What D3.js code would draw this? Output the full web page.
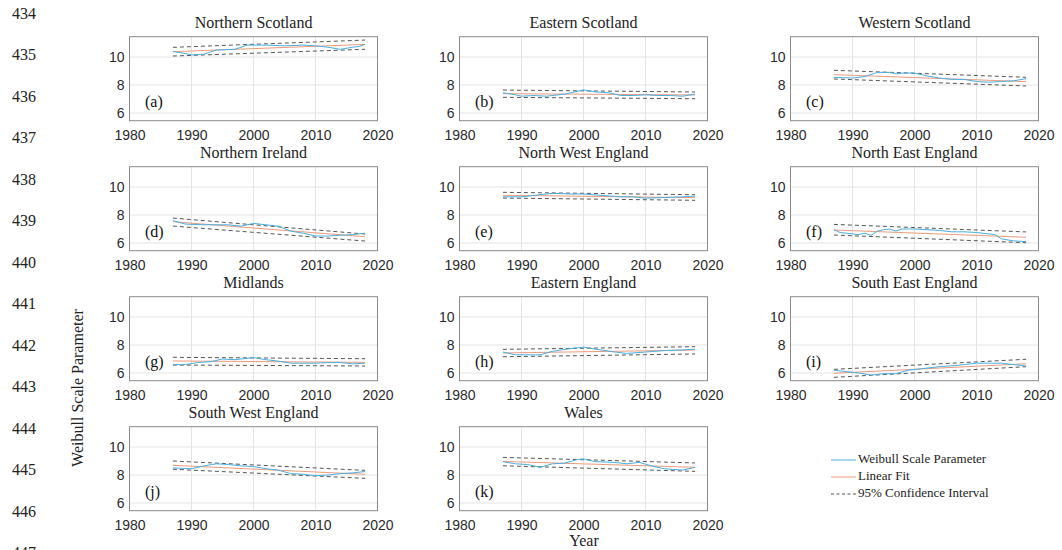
<!DOCTYPE html>
<html>
<head>
<meta charset="utf-8">
<script src="https://cdn.jsdelivr.net/npm/d3@7"></script>
<style>
  body { margin: 0; background: #fff; }
  svg { display: block; }
</style>
</head>
<body>
<svg id="chart" width="1062" height="550"></svg>
<script>
// region names and panel tags
const regions = [
  "Northern Scotland", "Eastern Scotland", "Western Scotland",
  "Northern Ireland", "North West England", "North East England",
  "Midlands", "Eastern England", "South East England",
  "South West England", "Wales"
];
const tags = ["(a)", "(b)", "(c)", "(d)", "(e)", "(f)", "(g)", "(h)", "(i)", "(j)", "(k)"];

// weibull scale parameter, [year, value]
const weibull = [
  [[1987,10.4],[1989,10.25],[1990,10.15],[1992,10.2],[1994,10.5],[1997,10.55],[1999,10.85],[2002,10.85],[2005,10.8],[2008,10.85],[2010,10.8],[2012,10.7],[2014,10.55],[2016,10.7],[2017,10.75],[2018,10.9]],
  [[1987,7.45],[1989,7.3],[1990,7.2],[1992,7.25],[1994,7.2],[1997,7.35],[2000,7.65],[2002,7.5],[2004,7.45],[2006,7.25],[2008,7.25],[2010,7.3],[2012,7.25],[2014,7.25],[2016,7.2],[2018,7.35]],
  [[1987,8.55],[1990,8.5],[1992,8.6],[1994,8.9],[1996,8.9],[1997,8.8],[1998,8.85],[2000,8.85],[2002,8.65],[2004,8.5],[2006,8.4],[2008,8.4],[2010,8.25],[2012,8.2],[2014,8.25],[2016,8.3],[2018,8.45]],
  [[1987,7.6],[1989,7.35],[1992,7.3],[1996,7.3],[1998,7.2],[2000,7.4],[2002,7.3],[2004,7.2],[2006,6.85],[2008,6.7],[2010,6.5],[2012,6.5],[2014,6.55],[2016,6.6],[2018,6.7]],
  [[1987,9.3],[1990,9.3],[1992,9.4],[1995,9.55],[1998,9.5],[2000,9.5],[2003,9.4],[2006,9.3],[2008,9.3],[2010,9.2],[2013,9.25],[2016,9.3],[2018,9.35]],
  [[1987,6.95],[1988,6.75],[1990,6.65],[1991,6.6],[1992,6.7],[1993,6.55],[1994,6.85],[1995,6.95],[1996,7.0],[1997,6.85],[1998,7.0],[2000,7.0],[2002,6.95],[2004,6.9],[2006,6.8],[2008,6.8],[2010,6.75],[2012,6.65],[2013,6.6],[2014,6.3],[2016,6.15],[2018,6.1]],
  [[1987,6.6],[1989,6.6],[1991,6.75],[1993,6.8],[1995,7.0],[1997,6.95],[2000,7.1],[2002,6.95],[2004,6.85],[2006,6.7],[2008,6.7],[2010,6.7],[2012,6.75],[2014,6.75],[2016,6.65],[2018,6.7]],
  [[1987,7.5],[1989,7.3],[1993,7.3],[1995,7.55],[1998,7.75],[2000,7.85],[2002,7.7],[2005,7.5],[2007,7.4],[2010,7.5],[2013,7.6],[2016,7.65],[2018,7.7]],
  [[1987,6.2],[1989,6.1],[1991,6.0],[1993,5.85],[1995,5.95],[1997,5.95],[1999,6.2],[2001,6.3],[2004,6.45],[2007,6.55],[2010,6.7],[2012,6.7],[2014,6.7],[2016,6.6],[2018,6.5]],
  [[1987,8.5],[1990,8.45],[1992,8.65],[1994,8.8],[1996,8.75],[1998,8.65],[2000,8.6],[2002,8.45],[2004,8.35],[2006,8.1],[2008,8.05],[2010,7.95],[2012,8.0],[2014,8.1],[2016,8.15],[2018,8.25]],
  [[1987,8.95],[1989,8.8],[1991,8.75],[1993,8.55],[1995,8.8],[1997,8.85],[1999,9.1],[2000,9.15],[2002,8.95],[2005,8.9],[2007,8.8],[2009,8.9],[2011,8.65],[2013,8.45],[2016,8.35],[2018,8.55]]
];

// linear fit and 95% CI, values at first and last year
const fitYears = [1987, 2018];
const fitLine = [[10.38,10.9],[7.38,7.29],[8.74,8.24],[7.52,6.45],[9.41,9.24],[6.93,6.41],[6.86,6.76],[7.43,7.64],[5.98,6.66],[8.69,8.05],[8.97,8.55]];
const ciUpper = [[10.69,11.21],[7.64,7.5],[9.05,8.55],[7.78,6.64],[9.62,9.45],[7.33,6.79],[7.12,7.02],[7.69,7.88],[6.26,6.98],[9.0,8.33],[9.26,8.86]];
const ciLower = [[10.07,10.55],[7.12,7.02],[8.43,7.93],[7.21,6.14],[9.21,9.05],[6.57,6.02],[6.57,6.5],[7.16,7.36],[5.69,6.45],[8.41,7.76],[8.66,8.26]];

const xTicks = [1980, 1990, 2000, 2010, 2020];
const yTicks = [6, 8, 10];
const lineNumbers = [434,435,436,437,438,439,440,441,442,443,444,445,446,447];
const legendItems = ["Weibull Scale Parameter", "Linear Fit", "95% Confidence Interval"];

const blue = "#4aaee0", orange = "#eb9a7c", dashCol = "#555";
const serif = "'Liberation Serif', 'Times New Roman', serif";
const sans = "'Liberation Sans', Arial, sans-serif";

const svg = d3.select("#chart");

// manuscript line numbers down the left margin
svg.selectAll("text.ln")
  .data(lineNumbers)
  .join("text")
  .attr("class", "ln")
  .attr("x", 12)
  .attr("y", (d, i) => 15 + i * 41.5)
  .attr("dominant-baseline", "middle")
  .attr("font-family", serif)
  .attr("font-size", 16)
  .attr("fill", "#222")
  .text(d => d);

const colLeft = [129.5, 459.5, 790.5];
const pw = 248, ph = 84;

regions.forEach((name, i) => {
  const col = i % 3, row = Math.floor(i / 3);
  const left = colLeft[col], top = 36.7 + row * 130;

  const x = d3.scaleLinear().domain([1980, 2020]).range([0, pw]);
  const y = d3.scaleLinear().domain([5.45, 11.45]).range([ph, 0]);

  const g = svg.append("g").attr("transform", `translate(${left},${top})`);

  // grid
  g.append("g")
    .selectAll("line")
    .data(xTicks)
    .join("line")
    .attr("x1", d => x(d)).attr("x2", d => x(d))
    .attr("y1", 0).attr("y2", ph)
    .attr("stroke", "#e4e4e4");
  g.append("g")
    .selectAll("line")
    .data(yTicks)
    .join("line")
    .attr("x1", 0).attr("x2", pw)
    .attr("y1", d => y(d)).attr("y2", d => y(d))
    .attr("stroke", "#e4e4e4");

  // axes
  const xa = g.append("g")
    .attr("transform", `translate(0,${ph})`)
    .call(d3.axisBottom(x).tickValues(xTicks).tickFormat(d3.format("d")).tickSize(0).tickPadding(9));
  const ya = g.append("g")
    .call(d3.axisLeft(y).tickValues(yTicks).tickFormat(d3.format("d")).tickSize(0).tickPadding(5));
  [xa, ya].forEach(a => {
    a.select(".domain").remove();
    a.selectAll("text")
      .attr("font-family", sans)
      .attr("font-size", 14)
      .attr("fill", "#2a2a2a");
  });

  // confidence interval
  [ciUpper[i], ciLower[i]].forEach(ends => {
    g.append("line")
      .attr("x1", x(fitYears[0])).attr("y1", y(ends[0]))
      .attr("x2", x(fitYears[1])).attr("y2", y(ends[1]))
      .attr("stroke", dashCol)
      .attr("stroke-width", 1)
      .attr("stroke-dasharray", "4,3");
  });

  // linear fit
  g.append("line")
    .attr("x1", x(fitYears[0])).attr("y1", y(fitLine[i][0]))
    .attr("x2", x(fitYears[1])).attr("y2", y(fitLine[i][1]))
    .attr("stroke", orange)
    .attr("stroke-width", 1);

  // weibull series
  g.append("path")
    .datum(weibull[i])
    .attr("fill", "none")
    .attr("stroke", blue)
    .attr("stroke-width", 1)
    .attr("d", d3.line().x(d => x(d[0])).y(d => y(d[1])));

  // box
  g.append("rect")
    .attr("width", pw).attr("height", ph)
    .attr("fill", "none")
    .attr("stroke", "#8a8a8a")
    .attr("stroke-width", 1);

  g.append("text")
    .attr("x", pw / 2)
    .attr("y", -9)
    .attr("text-anchor", "middle")
    .attr("font-family", serif)
    .attr("font-size", 16)
    .attr("fill", "#222")
    .text(name);

  g.append("text")
    .attr("x", x(1982.5))
    .attr("y", y(6.7))
    .attr("dominant-baseline", "middle")
    .attr("font-family", serif)
    .attr("font-size", 16)
    .attr("fill", "#111")
    .text(tags[i]);
});

// shared axis labels
svg.append("text")
  .attr("transform", "translate(83,388) rotate(-90)")
  .attr("text-anchor", "middle")
  .attr("font-family", serif)
  .attr("font-size", 16)
  .attr("fill", "#222")
  .text("Weibull Scale Parameter");

svg.append("text")
  .attr("x", 584)
  .attr("y", 546)
  .attr("text-anchor", "middle")
  .attr("font-family", serif)
  .attr("font-size", 16)
  .attr("fill", "#222")
  .text("Year");

// legend
const legend = svg.append("g").attr("transform", "translate(831,460)");
const legendStyles = [
  { stroke: blue, dash: null },
  { stroke: orange, dash: null },
  { stroke: dashCol, dash: "3,2.5" }
];
legendItems.forEach((label, i) => {
  const row = legend.append("g").attr("transform", `translate(0,${i * 17})`);
  row.append("line")
    .attr("x1", 0).attr("x2", 25)
    .attr("stroke", legendStyles[i].stroke)
    .attr("stroke-width", 1)
    .attr("stroke-dasharray", legendStyles[i].dash);
  row.append("text")
    .attr("x", 27)
    .attr("dominant-baseline", "middle")
    .attr("font-family", serif)
    .attr("font-size", 13)
    .attr("fill", "#222")
    .text(label);
});
</script>
</body>
</html>
